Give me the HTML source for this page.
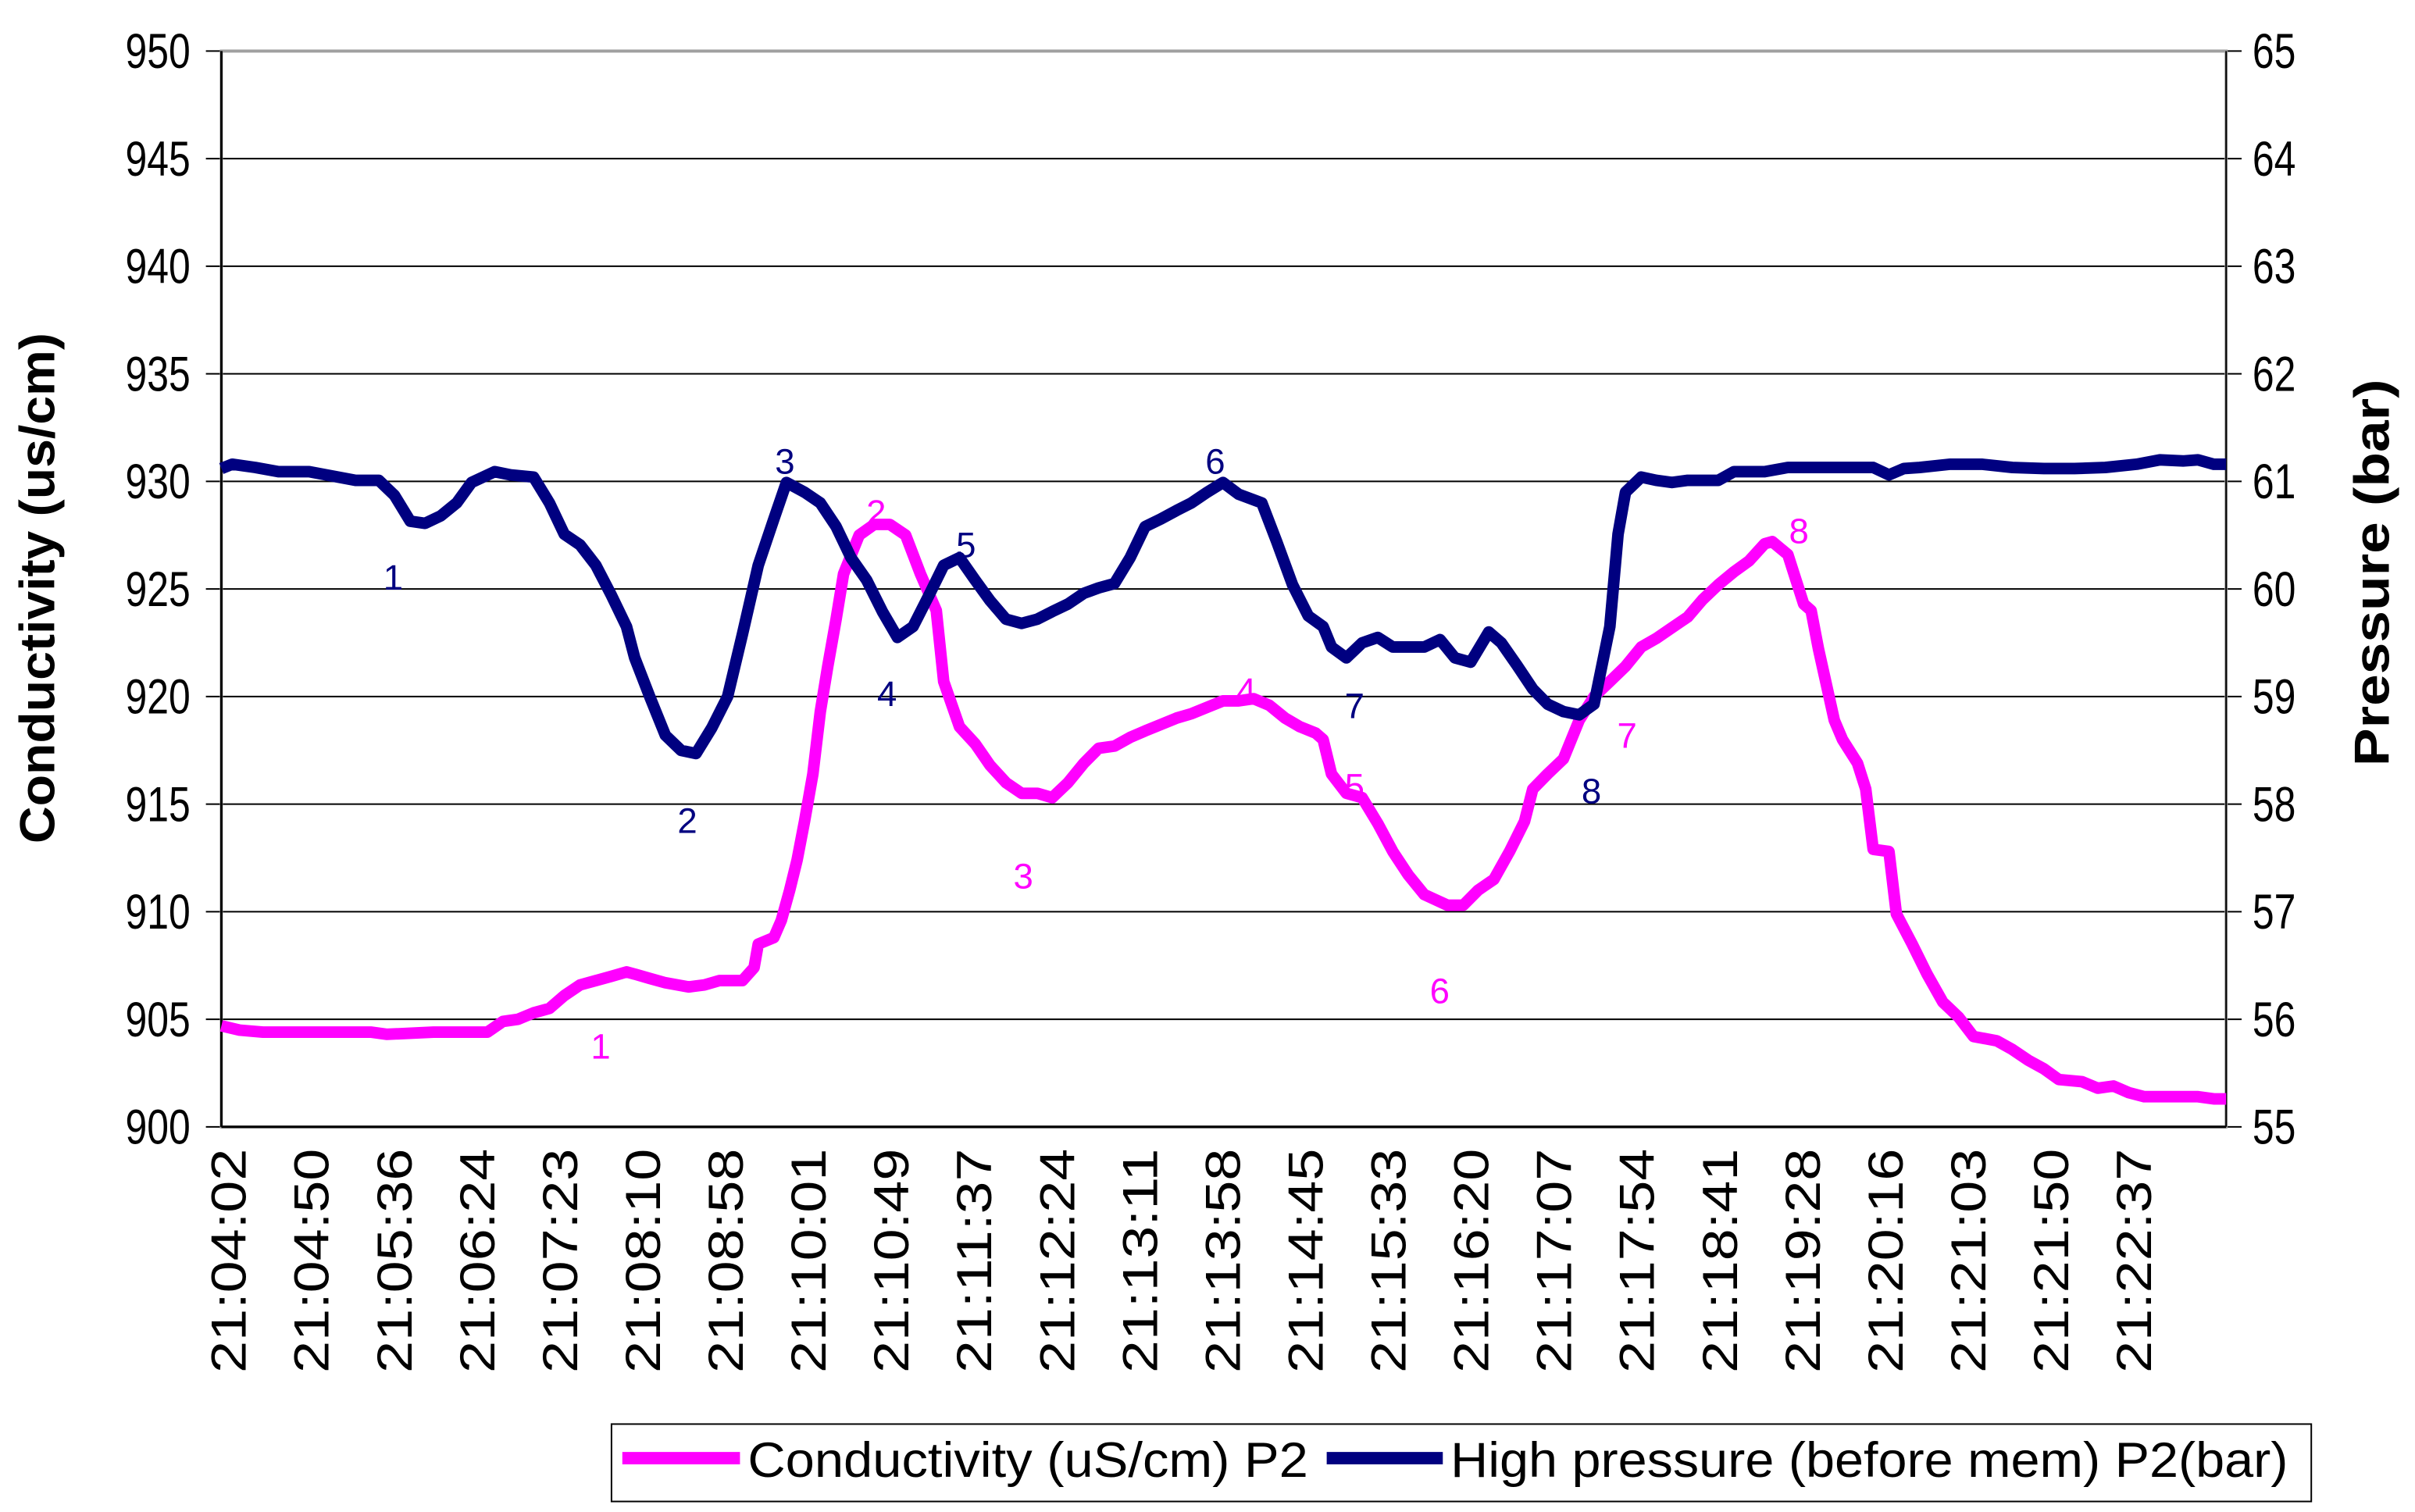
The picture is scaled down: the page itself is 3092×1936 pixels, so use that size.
<!DOCTYPE html>
<html><head><meta charset="utf-8"><style>
html,body{margin:0;padding:0;background:#fff;}
svg{display:block;}
text{font-family:"Liberation Sans",Arial,sans-serif;fill:#000;}
</style></head><body>
<svg id="chart" width="3092" height="1936" viewBox="0 0 1560 976.8" preserveAspectRatio="none" xmlns="http://www.w3.org/2000/svg">
<rect x="0" y="0" width="1560" height="976.8" fill="#fff"/>
<g id="grid"></g>
<g id="axes"></g>
<g id="series"></g>
<g id="annot"></g>
<text x="0" y="0" transform="translate(35,380) rotate(-90)" text-anchor="middle" font-size="32" font-weight="bold" textLength="330" lengthAdjust="spacingAndGlyphs">Conductivity (us/cm)</text>
<text x="0" y="0" transform="translate(1543,370) rotate(-90)" text-anchor="middle" font-size="32" font-weight="bold" textLength="250" lengthAdjust="spacingAndGlyphs">Pressure (bar)</text>
<g>
<rect x="395" y="920" width="1098" height="50" fill="#fff" stroke="#000" stroke-width="1"/>
<line x1="402" y1="942" x2="478" y2="942" stroke="#ff00ff" stroke-width="8"/>
<text x="483" y="954" font-size="32" textLength="362" lengthAdjust="spacingAndGlyphs">Conductivity (uS/cm) P2</text>
<line x1="857" y1="942" x2="932" y2="942" stroke="#000080" stroke-width="8"/>
<text x="937" y="954" font-size="32" textLength="541" lengthAdjust="spacingAndGlyphs">High pressure (before mem) P2(bar)</text>
</g>
</svg>
<script>
const xLabels=["21:04:02","21:04:50","21:05:36","21:06:24","21:07:23","21:08:10","21:08:58","21:10:01","21:10:49","21:11:37","21:12:24","21:13:11","21:13:58","21:14:45","21:15:33","21:16:20","21:17:07","21:17:54","21:18:41","21:19:28","21:20:16","21:21:03","21:21:50","21:22:37"];
const leftTicks=[900,905,910,915,920,925,930,935,940,945,950];
const rightTicks=[55,56,57,58,59,60,61,62,63,64,65];
const condX=[-0.07,0.15,0.43,1.74,1.93,2.49,2.67,3.14,3.33,3.51,3.70,3.89,4.07,4.26,4.45,4.64,4.82,4.92,5.10,5.29,5.57,5.76,5.94,6.22,6.36,6.41,6.60,6.69,6.79,6.88,6.97,7.07,7.16,7.25,7.35,7.44,7.63,7.81,8.00,8.19,8.37,8.56,8.65,8.84,9.03,9.21,9.40,9.59,9.78,9.96,10.15,10.34,10.52,10.71,10.90,11.08,11.27,11.46,11.64,11.83,12.02,12.21,12.39,12.58,12.77,12.95,13.14,13.23,13.33,13.51,13.70,13.89,14.07,14.26,14.45,14.73,14.92,15.10,15.29,15.48,15.66,15.76,15.94,16.13,16.32,16.50,16.69,16.88,17.07,17.25,17.44,17.63,17.81,18.00,18.19,18.37,18.56,18.65,18.84,19.03,19.12,19.21,19.40,19.50,19.68,19.78,19.87,20.06,20.15,20.34,20.52,20.71,20.90,21.08,21.36,21.55,21.74,21.93,22.11,22.39,22.58,22.77,22.95,23.14,23.79,23.98,24.13];
const condY=[904.7,904.5,904.4,904.4,904.3,904.4,904.4,904.4,904.9,905.0,905.3,905.5,906.1,906.6,906.8,907.0,907.2,907.1,906.9,906.7,906.5,906.6,906.8,906.8,907.4,908.5,908.8,909.6,911.0,912.4,914.2,916.4,919.3,921.4,923.6,925.7,927.5,928.0,928.0,927.5,925.7,924.0,920.7,918.6,917.8,916.8,916.0,915.5,915.5,915.3,916.0,916.9,917.6,917.7,918.1,918.4,918.7,919.0,919.2,919.5,919.8,919.8,919.9,919.6,919.0,918.6,918.3,918.0,916.4,915.5,915.3,914.1,912.8,911.7,910.8,910.3,910.3,911.0,911.5,912.8,914.2,915.7,916.4,917.1,918.9,920.0,920.7,921.4,922.3,922.7,923.2,923.7,924.5,925.2,925.8,926.3,927.1,927.2,926.6,924.3,924.0,922.2,918.9,918.0,916.9,915.7,912.9,912.8,909.9,908.5,907.1,905.8,905.1,904.2,904.0,903.6,903.1,902.7,902.2,902.1,901.8,901.9,901.6,901.4,901.4,901.3,901.3];
const presX=[-0.07,0.06,0.34,0.62,0.99,1.55,1.83,2.02,2.21,2.39,2.58,2.77,2.95,3.23,3.42,3.70,3.89,4.07,4.26,4.45,4.64,4.82,4.92,5.10,5.29,5.48,5.66,5.85,6.04,6.22,6.41,6.60,6.75,6.97,7.16,7.35,7.53,7.72,7.91,8.09,8.28,8.47,8.65,8.84,9.03,9.21,9.40,9.59,9.78,9.96,10.15,10.34,10.52,10.71,10.90,11.08,11.27,11.46,11.64,11.83,12.02,12.21,12.49,12.67,12.86,13.05,13.23,13.33,13.51,13.70,13.89,14.07,14.45,14.64,14.82,15.01,15.23,15.38,15.57,15.76,15.94,16.13,16.32,16.50,16.69,16.79,16.88,17.07,17.25,17.44,17.63,18.00,18.19,18.56,18.84,19.12,19.50,19.87,20.06,20.24,20.43,20.80,21.18,21.55,21.93,22.30,22.67,23.05,23.33,23.61,23.79,23.98,24.13];
const presY=[61.12,61.16,61.13,61.09,61.09,61.01,61.01,60.87,60.63,60.61,60.68,60.80,60.99,61.09,61.06,61.04,60.80,60.51,60.41,60.22,59.94,59.65,59.36,59.00,58.64,58.50,58.47,58.71,59.00,59.58,60.22,60.65,60.99,60.90,60.80,60.58,60.29,60.08,59.79,59.55,59.65,59.94,60.22,60.29,60.08,59.89,59.72,59.68,59.72,59.79,59.86,59.96,60.01,60.05,60.29,60.58,60.65,60.73,60.80,60.90,60.99,60.88,60.80,60.44,60.04,59.75,59.65,59.46,59.36,59.50,59.55,59.46,59.46,59.53,59.36,59.32,59.60,59.50,59.29,59.07,58.93,58.86,58.83,58.93,59.65,60.51,60.90,61.04,61.01,60.99,61.01,61.01,61.09,61.09,61.13,61.13,61.13,61.13,61.06,61.12,61.13,61.16,61.16,61.13,61.12,61.12,61.13,61.16,61.20,61.19,61.20,61.16,61.16];
const condNotes=[["1",388,676],["2",566,331],["3",661,566],["4",805,446],["5",875,508],["6",930,640],["7",1051,475],["8",1162,343]];
const presNotes=[["1",254,373],["2",444,530],["3",507,298],["4",573,448],["5",624,352],["6",785,298],["7",875,456],["8",1028,511]];

const L=143,R=1438,T=33,B=728;
const X0=-0.07,X1=24.13;
const xs=u=>L+(u-X0)/(X1-X0)*(R-L);
const yL=v=>B-(v-900)/50*(B-T);
const yR=v=>B-(v-55)/10*(B-T);
const NS="http://www.w3.org/2000/svg";
function mk(tag,attrs,parent,txt){const e=document.createElementNS(NS,tag);for(const k in attrs)e.setAttribute(k,attrs[k]);if(txt!==undefined)e.textContent=txt;parent.appendChild(e);return e;}
const grid=document.getElementById('grid'),axes=document.getElementById('axes'),series=document.getElementById('series'),annot=document.getElementById('annot');
leftTicks.forEach(v=>{
  const y=yL(v);
  if(v>900&&v<950){const g=mk('line',{x1:L,x2:R,y1:y,y2:y,stroke:'#000','stroke-width':1},grid);
  
  }
  const t=mk('line',{x1:L-10,x2:L,y1:y,y2:y,stroke:'#000','stroke-width':1},axes);
  
  
  const tx=mk('text',{x:123,y:y+11,'text-anchor':'end','font-size':32,textLength:42,lengthAdjust:'spacingAndGlyphs'},axes,String(v));
  
  
});
rightTicks.forEach(v=>{
  const y=yR(v);
  const t=mk('line',{x1:R,x2:R+10,y1:y,y2:y,stroke:'#000','stroke-width':1},axes);
  
  
  const tx=mk('text',{x:1455,y:y+11,'text-anchor':'start','font-size':32,textLength:28,lengthAdjust:'spacingAndGlyphs'},axes,String(v));
  
  
});
const frame=mk('rect',{x:L,y:T,width:R-L,height:B-T,fill:'none',stroke:'#a0a0a0','stroke-width':2},axes);


const la=mk('line',{x1:L,x2:L,y1:T,y2:B,stroke:'#000','stroke-width':1.5},axes);


const ba=mk('line',{x1:L,x2:R,y1:B,y2:B,stroke:'#000','stroke-width':1.5},axes);


const ra=mk('line',{x1:R,x2:R,y1:T,y2:B,stroke:'#000','stroke-width':1},axes);


xLabels.forEach((s,i)=>{
  const x=xs(i);
  const tx=mk('text',{transform:`translate(${x+12},742) rotate(-90)`,'text-anchor':'end','font-size':32,textLength:145,lengthAdjust:'spacingAndGlyphs'},axes,s);
  
  
});
function path(xa,ya,fy,color,name){
  let d='';xa.forEach((u,i)=>{d+=(i?'L':'M')+xs(u).toFixed(1)+','+fy(ya[i]).toFixed(1);});
  const p=mk('path',{d:d,fill:'none',stroke:color,'stroke-width':7.5,'stroke-linejoin':'round','stroke-linecap':'butt'},series);
  
  
}
path(condX,condY,yL,'#ff00ff','conductivity-line');
path(presX,presY,yR,'#000080','pressure-line');
condNotes.forEach(n=>{const t=mk('text',{x:n[1],y:n[2]+8,'text-anchor':'middle','font-size':23,style:'fill:#ff00ff'},annot,n[0]);

});
presNotes.forEach(n=>{const t=mk('text',{x:n[1],y:n[2]+8,'text-anchor':'middle','font-size':23,style:'fill:#000080'},annot,n[0]);

});
</script>
</body></html>
